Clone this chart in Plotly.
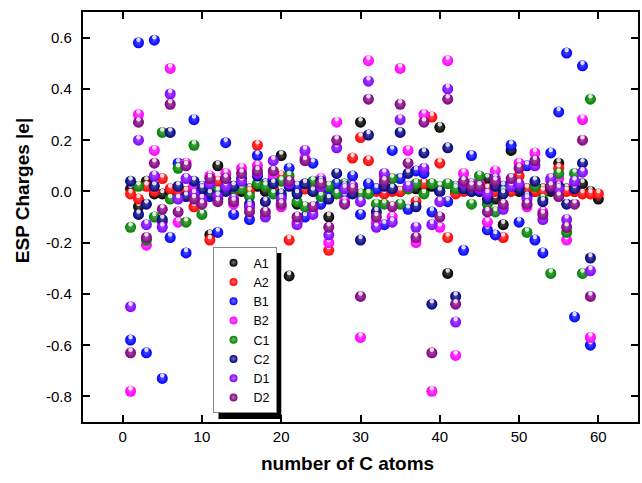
import plotly.graph_objects as go

# ---------------- data ----------------
atoms = list(range(1, 61))

A1 = [0.01, -0.06, 0.04, -0.01, -0.01, 0.00, 0.01, 0.00, 0.02, 0.00,
      -0.17, 0.10, 0.01, 0.02, 0.00, 0.01, 0.02, 0.00, 0.01, 0.14,
      -0.33, -0.05, 0.01, 0.00, 0.02, -0.10, 0.00, 0.01, 0.02, 0.27,
      0.00, 0.01, 0.00, 0.01, 0.00, 0.01, 0.01, 0.00, 0.02, 0.25,
      -0.32, 0.00, 0.01, 0.00, 0.01, 0.05, -0.03, -0.13, 0.16, 0.00,
      0.01, 0.00, 0.01, 0.00, 0.11, 0.01, 0.00, 0.03, 0.00, -0.03]
A2 = [-0.01, -0.03, 0.02, 0.00, 0.05, 0.01, 0.00, 0.00, -0.06, 0.01,
      -0.19, 0.04, 0.01, 0.00, 0.02, 0.00, 0.18, 0.02, 0.01, 0.06,
      -0.19, 0.00, 0.01, 0.02, 0.00, -0.23, 0.01, 0.02, 0.13, 0.21,
      0.12, 0.00, -0.01, 0.00, 0.00, 0.01, -0.04, 0.03, 0.29, 0.11,
      -0.18, -0.01, 0.00, 0.01, 0.00, 0.01, 0.00, -0.18, 0.00, 0.06,
      0.01, 0.00, 0.00, 0.01, 0.09, 0.00, 0.00, -0.01, -0.01, -0.01]
B1 = [-0.58, 0.58, -0.63, 0.59, -0.73, -0.18, 0.11, -0.24, 0.28, 0.02,
      -0.02, -0.16, 0.19, -0.09, 0.03, -0.11, 0.14, 0.03, 0.05, -0.02,
      0.09, 0.02, -0.10, 0.11, -0.05, 0.01, 0.03, -0.02, 0.06, -0.09,
      0.03, 0.01, -0.13, 0.16, 0.05, -0.07, 0.08, 0.07, -0.08, 0.00,
      -0.04, 0.02, -0.23, 0.14, 0.02, -0.15, -0.17, 0.02, 0.18, -0.12,
      0.10, -0.19, -0.24, 0.15, 0.31, 0.54, -0.49, 0.49, -0.60]
B2 = [-0.78, 0.30, -0.21, 0.16, -0.12, 0.48, -0.12, 0.11, 0.02, -0.04,
      0.06, -0.01, 0.07, -0.05, 0.09, -0.06, 0.10, 0.02, 0.06, -0.06,
      0.04, -0.12, 0.13, -0.07, 0.05, -0.20, 0.27, -0.04, 0.02, -0.57,
      0.51, -0.12, 0.06, -0.10, 0.48, 0.16, -0.20, 0.30, -0.78, -0.14,
      0.51, -0.64, 0.07, 0.02, 0.03, -0.12, 0.08, -0.06, 0.04, 0.11,
      -0.06, 0.15, -0.08, 0.04, 0.05, -0.19, 0.03, 0.28, -0.57]
C1 = [-0.14, 0.02, -0.19, -0.10, 0.23, -0.03, 0.09, -0.12, 0.18, -0.09,
      0.02, 0.00, 0.05, 0.01, 0.01, -0.02, 0.03, 0.02, -0.01, 0.04,
      0.06, -0.04, -0.06, 0.04, -0.02, 0.02, -0.01, 0.03, 0.00, -0.01,
      -0.01, -0.05, -0.05, 0.05, -0.05, 0.01, 0.03, -0.01, 0.03, 0.02,
      0.03, 0.01, 0.02, -0.05, 0.06, -0.05, -0.08, 0.00, 0.02, 0.01,
      -0.16, 0.02, -0.03, -0.32, 0.07, -0.16, 0.07, -0.32, 0.36]
C2 = [0.04, -0.09, -0.05, 0.02, -0.11, 0.23, 0.02, -0.02, 0.04, 0.01,
      -0.01, -0.03, 0.00, 0.02, 0.05, -0.05, 0.06, -0.04, 0.03, -0.01,
      0.02, -0.01, 0.03, 0.00, 0.04, -0.03, 0.07, 0.02, -0.01, -0.19,
      0.22, -0.08, 0.02, 0.01, 0.23, 0.07, -0.06, 0.15, -0.44, 0.00,
      0.17, -0.41, 0.01, 0.00, 0.00, -0.03, 0.02, -0.01, 0.03, 0.01,
      -0.02, 0.04, -0.04, 0.01, 0.02, -0.05, 0.01, 0.11, -0.26]
D1 = [-0.45, 0.20, -0.13, 0.06, -0.14, 0.38, -0.03, 0.05, -0.01, -0.03,
      0.03, -0.02, 0.02, -0.03, 0.04, -0.06, 0.07, -0.10, 0.12, -0.03,
      0.03, -0.13, 0.16, -0.09, 0.02, -0.17, 0.17, 0.01, 0.02, -0.04,
      0.43, -0.14, 0.07, -0.12, 0.28, 0.02, -0.14, 0.09, -0.13, -0.04,
      0.40, -0.51, 0.03, 0.03, 0.01, -0.01, 0.05, -0.07, 0.02, 0.03,
      -0.03, 0.10, -0.11, 0.05, 0.01, -0.11, 0.04, 0.075, -0.31]
D2 = [-0.63, 0.27, -0.18, 0.11, -0.07, 0.34, -0.08, 0.10, -0.03, -0.05,
      0.05, -0.04, 0.05, -0.04, 0.07, -0.08, 0.08, -0.08, 0.08, -0.05,
      0.04, -0.10, 0.12, -0.06, 0.03, -0.14, 0.20, -0.05, 0.01, -0.41,
      0.36, -0.10, 0.04, -0.06, 0.34, 0.11, -0.18, 0.27, -0.63, -0.10,
      0.36, -0.44, 0.04, 0.02, 0.02, -0.08, 0.04, -0.05, 0.05, 0.09,
      -0.05, 0.12, -0.09, 0.02, -0.02, -0.14, -0.05, 0.20, -0.41]

series_names = ["A1", "A2", "B1", "B2", "C1", "C2", "D1", "D2"]
series_vals = [A1, A2, B1, B2, C1, C2, D1, D2]
series_colors = ["#000000", "#FF0000", "#0000FF", "#FF00FF",
                 "#008000", "#000080", "#8000FF", "#800080"]

x_ticks = [0, 10, 20, 30, 40, 50, 60]
y_ticks = [-0.8, -0.6, -0.4, -0.2, 0.0, 0.2, 0.4, 0.6]
y_labels = ["-0.8", "-0.6", "-0.4", "-0.2", "0.0", "0.2", "0.4", "0.6"]
x_title = "number of C atoms"
y_title = "ESP Charges |e|"


def lighten(hex_color, f):
    h = hex_color.lstrip("#")
    r, g, b = int(h[0:2], 16), int(h[2:4], 16), int(h[4:6], 16)
    r = int(r + (255 - r) * f)
    g = int(g + (255 - g) * f)
    b = int(b + (255 - b) * f)
    return "#%02x%02x%02x" % (r, g, b)


FONT = "Arial, 'Liberation Sans', sans-serif"

L, R, T, B = 83, 640, 12, 422
W, H = 642, 483
pw, ph = R - L, B - T
Y0, Y1 = -0.9, 0.7
HL_SHIFT = 3.0 * (Y1 - Y0) / ph   # specular highlight ~3 px above the centre

fig = go.Figure()
for name, vals, col in zip(series_names, series_vals, series_colors):
    xs = atoms[:len(vals)]
    fig.add_trace(go.Scatter(
        x=xs, y=vals, mode="markers", name=name, showlegend=False,
        marker=dict(size=11, color=col, line=dict(width=0),
                    gradient=dict(type="radial", color=lighten(col, 0.3))),
        hoverinfo="x+y+name",
    ))
    fig.add_trace(go.Scatter(
        x=xs, y=[v + HL_SHIFT for v in vals], mode="markers",
        showlegend=False, hoverinfo="skip",
        marker=dict(size=4.5, color="white", opacity=0.85, line=dict(width=0),
                    gradient=dict(type="radial", color="white")),
    ))
# legend entries (smaller symbols, like the reference)
for name, col in zip(series_names, series_colors):
    fig.add_trace(go.Scatter(
        x=[None], y=[None], mode="markers", name=name, showlegend=True,
        marker=dict(size=8, color=col, line=dict(width=0),
                    gradient=dict(type="radial", color=lighten(col, 0.45))),
    ))


def px2paper(px, py):
    return (px - L) / pw, (B - py) / ph


lx, ly = px2paper(213, 247)
sx0, sy1 = px2paper(219, 253)
sx1, sy0 = px2paper(282, 419)

fig.add_shape(type="rect", xref="paper", yref="paper",
              x0=sx0, x1=sx1, y0=sy0, y1=sy1,
              fillcolor="black", line=dict(width=0), layer="above")

annotations = []
lab_x, _ = px2paper(74, 0)
for v, t in zip(y_ticks, y_labels):
    annotations.append(dict(text=t, x=lab_x, xref="paper", xanchor="right",
                            y=v, yref="y", yanchor="middle", showarrow=False,
                            font=dict(family=FONT, size=15, color="black")))
tx, ty = px2paper(22, 191)
annotations.append(dict(text="<b>%s</b>" % y_title, x=tx, y=ty,
                        xref="paper", yref="paper", textangle=-90,
                        xanchor="center", yanchor="middle", showarrow=False,
                        font=dict(family=FONT, size=19, color="black")))
tx, ty = px2paper(348, 463)
annotations.append(dict(text="<b>%s</b>" % x_title, x=tx, y=ty,
                        xref="paper", yref="paper",
                        xanchor="center", yanchor="middle", showarrow=False,
                        font=dict(family=FONT, size=19, color="black")))

axis_common = dict(showline=True, linecolor="black", linewidth=1.6,
                   mirror="ticks", ticks="inside", ticklen=7, tickwidth=1.5,
                   tickcolor="black", showgrid=False, zeroline=False,
                   tickfont=dict(family=FONT, size=15, color="black"))

fig.update_layout(
    width=W, height=H,
    margin=dict(l=L, r=W - R, t=T, b=H - B),
    plot_bgcolor="white", paper_bgcolor="white",
    font=dict(family=FONT, color="black"),
    xaxis=dict(range=[-5, 65], tickvals=x_ticks, **axis_common),
    yaxis=dict(range=[Y0, Y1], tickvals=y_ticks, showticklabels=False,
               **axis_common),
    legend=dict(x=lx, y=ly, xanchor="left", yanchor="top",
                bgcolor="white", bordercolor="#888888", borderwidth=1,
                font=dict(family=FONT, size=12.5, color="black"),
                itemwidth=30, tracegroupgap=0),
    annotations=annotations,
)

fig.write_html("out.html")
